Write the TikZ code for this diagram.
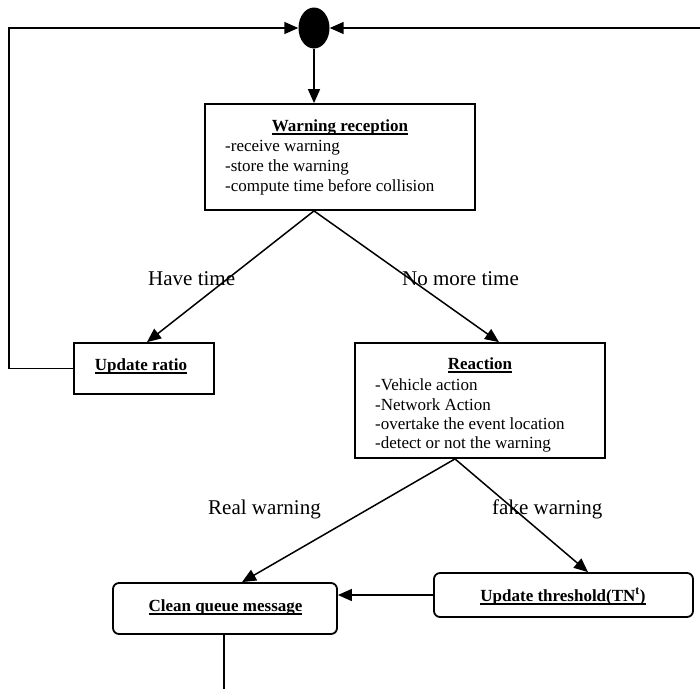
\documentclass[tikz,border=0pt]{standalone}
\usepackage{fontspec}
\setmainfont{Liberation Serif}
\usetikzlibrary{arrows.meta,shapes.geometric}
\newcommand\myul[1]{\setbox0=\hbox{#1}\rlap{\vrule height -2pt depth 3.6pt width \wd0}\box0}
\begin{document}
\begin{tikzpicture}[x=1pt,y=1pt,
  box/.style={draw,line width=1.8pt,inner sep=0pt},
  rbox/.style={box,rounded corners=6pt},
  ttl/.style={anchor=base,font=\fontsize{17}{20}\selectfont\bfseries,inner sep=0pt},
  item/.style={anchor=base west,font=\fontsize{17}{20}\selectfont,inner sep=0pt},
  lbl/.style={anchor=base west,font=\fontsize{21}{24}\selectfont,inner sep=0pt},
  conn/.style={line width=1.5pt},
  arr/.style={conn,-{Triangle[length=14pt,width=12pt]}}]
\useasboundingbox (0,0) rectangle (700,-689);

% start dot
\node[ellipse,fill=black,minimum width=31pt,minimum height=41pt,inner sep=0pt] (dot) at (314,-28) {};

% Warning reception
\node[box,minimum width=270pt,minimum height=106pt] (wr) at (340,-157) {};
\node[ttl] (wrt) at (340,-131) {\myul{Warning reception}};
\node[item] (wr1) at (225,-151) {-receive warning};
\node[item] (wr2) at (225,-171) {-store the warning};
\node[item] (wr3) at (225,-191) {-compute time before collision};

% Update ratio
\node[box,minimum width=140pt,minimum height=51pt] (ur) at (144,-368.5) {};
\node[ttl] (urt) at (141,-370) {\myul{Update ratio}};

% Reaction
\node[box,minimum width=250pt,minimum height=115pt] (re) at (480,-400.5) {};
\node[ttl] (ret) at (480,-369) {\myul{Reaction}};
\node[item] (re1) at (375,-390) {-Vehicle action};
\node[item] (re2) at (375,-410) {-Network Action};
\node[item] (re3) at (375,-429) {-overtake the event location};
\node[item] (re4) at (375,-448) {-detect or not the warning};

% Clean queue message
\node[rbox,minimum width=224pt,minimum height=51pt] (cq) at (225,-608.5) {};
\node[ttl] (cqt) at (225.5,-611) {\myul{Clean queue message}};

% Update threshold
\node[rbox,minimum width=259pt,minimum height=44pt] (th) at (563.5,-595) {};
\node[ttl] (tht) at (563,-601) {\myul{Update threshold(TN\textsuperscript{t})}};

% labels
\node[lbl] (l1) at (148,-285) {Have time};
\node[lbl] (l2) at (402,-285) {No more time};
\node[lbl] (l3) at (208,-514) {Real warning};
\node[lbl] (l4) at (492,-514) {fake warning};

% connectors
\coordinate (lc) at (9,-28);
\coordinate (rc) at (700,-28);
\coordinate (endc) at (224,-689);
\draw[arr] (dot.south) -- (dot.south |- wr.north);
\draw[arr] (ur.west) -| (lc) -- (dot.west);
\draw[arr] (rc) -- (dot.east);
\draw[arr] ([xshift=-26pt]wr.south) -- ([xshift=3pt]ur.north);
\draw[arr] ([xshift=-26pt]wr.south) -- ([xshift=19pt]re.north);
\draw[arr] ([xshift=-25pt]re.south) -- ([xshift=17pt]cq.north);
\draw[arr] ([xshift=-25pt]re.south) -- ([xshift=24.5pt]th.north);
\draw[arr] (th.west) -- (th.west -| cq.east);
\draw[conn] (cq.south -| endc) -- (endc);
\end{tikzpicture}
\end{document}
